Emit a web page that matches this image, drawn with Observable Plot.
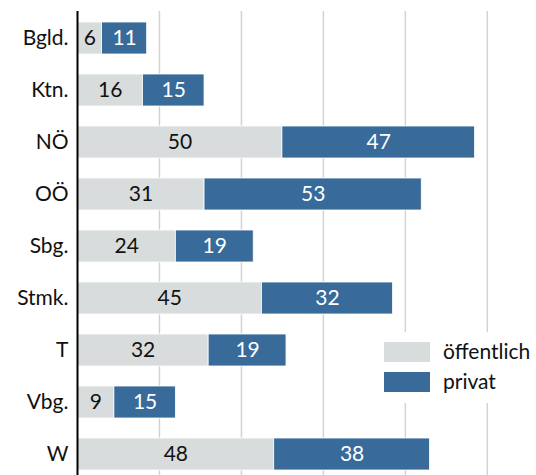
<!DOCTYPE html>
<html>
<head>
<meta charset="utf-8">
<script src="https://cdn.jsdelivr.net/npm/d3@7"></script>
<script src="https://cdn.jsdelivr.net/npm/@observablehq/plot@0.6"></script>
<style>
  html, body { margin: 0; padding: 0; background: #fff; }
  #wrap { position: relative; width: 536px; height: 475px; overflow: hidden; font-family: Lato, "Open Sans", sans-serif; }
  #legend { position: absolute; left: 370px; top: 332px; width: 166px; height: 71px; background: #fff; }
  .sw { position: absolute; left: 14px; width: 46px; height: 20px; }
  .lt { position: absolute; left: 73px; font-size: 21px; line-height: 20px; color: #111; }
</style>
</head>
<body>
<div id="wrap"></div>
<script>
const categories = ["Bgld.", "Ktn.", "NÖ", "OÖ", "Sbg.", "Stmk.", "T", "Vbg.", "W"];
const oeffentlich = [6, 16, 50, 31, 24, 45, 32, 9, 48];
const privat = [11, 15, 47, 53, 19, 32, 19, 15, 38];
const seriesNames = ["öffentlich", "privat"];
const seriesColors = ["#d9dcdc", "#386b99"];
const labelColors = ["#111111", "#ffffff"];
const gridValues = [20, 40, 60, 80, 100];

const data = [];
categories.forEach((c, i) => {
  data.push({cat: c, series: seriesNames[0], value: oeffentlich[i]});
  data.push({cat: c, series: seriesNames[1], value: privat[i]});
});

const stackOpts = {x: "value", y: "cat", z: "series", order: seriesNames};

const chart = Plot.plot({
  width: 536,
  height: 475,
  marginTop: 11,
  marginBottom: 0,
  marginLeft: 77,
  marginRight: 0,
  style: {fontFamily: "Lato, 'Open Sans', sans-serif", background: "#fff"},
  x: {domain: [0, 112], range: [77, 536], axis: null},
  y: {domain: categories, range: [12, 481], paddingInner: 0.376, paddingOuter: 0.188, label: null},
  color: {domain: seriesNames, range: seriesColors},
  marks: [
    Plot.ruleX(gridValues, {stroke: "#d3d3d3", strokeWidth: 1.5}),
    Plot.barX(data, Plot.stackX({...stackOpts, fill: "series", stroke: "#ffffff", strokeWidth: 0.8})),
    Plot.textX(data, Plot.stackX({...stackOpts, text: d => String(d.value), fill: d => labelColors[seriesNames.indexOf(d.series)], fontSize: 21})),
    Plot.ruleX([0], {stroke: "#000", strokeWidth: 2}),
    Plot.axisY({tickSize: 0, tickPadding: 9, fontSize: 21, color: "#111", label: null})
  ]
});

const wrap = document.getElementById("wrap");
wrap.appendChild(chart);

const legend = document.createElement("div");
legend.id = "legend";
seriesNames.forEach((name, i) => {
  const sw = document.createElement("div");
  sw.className = "sw";
  sw.style.top = (10 + i * 30) + "px";
  sw.style.background = seriesColors[i];
  legend.appendChild(sw);
  const t = document.createElement("div");
  t.className = "lt";
  t.style.top = (9 + i * 30) + "px";
  t.textContent = name;
  legend.appendChild(t);
});
wrap.appendChild(legend);
</script>
</body>
</html>
